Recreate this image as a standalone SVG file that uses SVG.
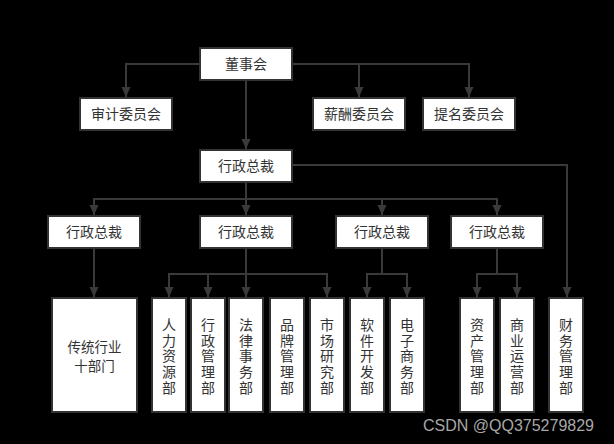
<svg xmlns="http://www.w3.org/2000/svg" width="614" height="444" viewBox="0 0 614 444">
<defs>
<marker id="arr" markerUnits="userSpaceOnUse" markerWidth="10" markerHeight="10" refX="10" refY="4.5" orient="auto">
<path d="M0,0 L10,4.5 L0,9 Z" fill="#3a3a3a"/>
</marker>
<style>
.box{fill:#fff;stroke:#333;stroke-width:2}
.t{font-family:"Noto Sans CJK SC","Noto Sans",sans-serif;font-size:14px;fill:#333;text-anchor:middle}
.v{font-family:"Noto Sans CJK SC","Noto Sans",sans-serif;font-size:14px;fill:#333;text-anchor:middle;writing-mode:vertical-rl;text-orientation:upright;letter-spacing:1.8px}
.c{fill:none;stroke:#3a3a3a;stroke-width:2;marker-end:url(#arr)}
.wm{font-family:"Liberation Sans",Arial,sans-serif;font-size:16px;fill:#a8a8a8}
</style>
</defs>
<rect width="614" height="444" fill="#000"/>
<g id="connectors">
<path class="c" d="M200,64 H126 V97"/>
<path class="c" d="M292,64 H359 V97"/>
<path class="c" d="M292,64 H469 V97"/>
<path class="c" d="M246,80 V149"/>
<path class="c" d="M292,165 H567 V297"/>
<path class="c" d="M246,182 V199 H94 V215"/>
<path class="c" d="M246,182 V215"/>
<path class="c" d="M246,199 H382 V215"/>
<path class="c" d="M246,199 H497 V215"/>
<path class="c" d="M94,248 V297"/>
<path class="c" d="M246,248 V274 H169 V297"/>
<path class="c" d="M246,274 H208 V297"/>
<path class="c" d="M246,248 V297"/>
<path class="c" d="M246,274 H327 V297"/>
<path class="c" d="M382,248 V274 H367 V297"/>
<path class="c" d="M382,274 H407 V297"/>
<path class="c" d="M497,248 V274 H477 V297"/>
<path class="c" d="M497,274 H517 V297"/>
</g>
<g id="board"><rect class="box" x="200" y="48" width="92" height="32"/><text class="t" x="246" y="69">董事会</text></g>
<g id="audit"><rect class="box" x="80" y="98" width="92" height="32"/><text class="t" x="126" y="119">审计委员会</text></g>
<g id="salary"><rect class="box" x="313" y="98" width="92" height="32"/><text class="t" x="359" y="119">薪酬委员会</text></g>
<g id="nominate"><rect class="box" x="423" y="98" width="92" height="32"/><text class="t" x="469" y="119">提名委员会</text></g>
<g id="ceo"><rect class="box" x="200" y="150" width="92" height="32"/><text class="t" x="246" y="171">行政总裁</text></g>
<g id="ceo1"><rect class="box" x="48" y="216" width="92" height="32"/><text class="t" x="94" y="237">行政总裁</text></g>
<g id="ceo2"><rect class="box" x="200" y="216" width="92" height="32"/><text class="t" x="246" y="237">行政总裁</text></g>
<g id="ceo3"><rect class="box" x="336" y="216" width="92" height="32"/><text class="t" x="382" y="237">行政总裁</text></g>
<g id="ceo4"><rect class="box" x="451" y="216" width="92" height="32"/><text class="t" x="497" y="237">行政总裁</text></g>
<g id="trad"><rect class="box" x="52" y="298" width="85" height="114"/><text class="t" x="94.5" y="351.5" style="font-size:13.5px"><tspan x="94.5">传统行业</tspan><tspan x="94.5" dy="19.8">十部门</tspan></text></g>
<g id="hr"><rect class="box" x="152" y="298" width="34" height="114"/><text class="v" x="169" y="357">人力资源部</text></g>
<g id="admin"><rect class="box" x="191" y="298" width="34" height="114"/><text class="v" x="208" y="357">行政管理部</text></g>
<g id="legal"><rect class="box" x="229" y="298" width="34" height="114"/><text class="v" x="246" y="357">法律事务部</text></g>
<g id="brand"><rect class="box" x="270" y="298" width="34" height="114"/><text class="v" x="287" y="357">品牌管理部</text></g>
<g id="market"><rect class="box" x="310" y="298" width="34" height="114"/><text class="v" x="327" y="357">市场研究部</text></g>
<g id="software"><rect class="box" x="350" y="298" width="34" height="114"/><text class="v" x="367" y="357">软件开发部</text></g>
<g id="ecommerce"><rect class="box" x="390" y="298" width="34" height="114"/><text class="v" x="407" y="357">电子商务部</text></g>
<g id="asset"><rect class="box" x="460" y="298" width="34" height="114"/><text class="v" x="477" y="357">资产管理部</text></g>
<g id="operation"><rect class="box" x="500" y="298" width="34" height="114"/><text class="v" x="517" y="357">商业运营部</text></g>
<g id="finance"><rect class="box" x="549" y="298" width="34" height="114"/><text class="v" x="566" y="357">财务管理部</text></g>
<text class="wm" x="423" y="431">CSDN @QQ375279829</text>
</svg>
